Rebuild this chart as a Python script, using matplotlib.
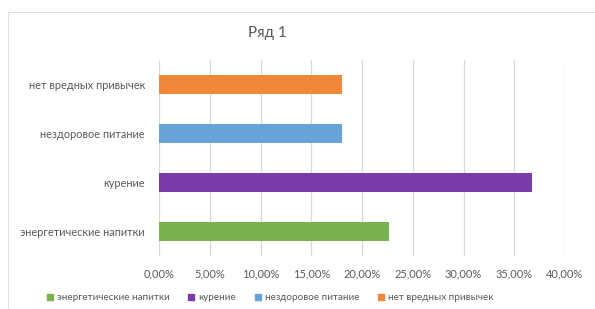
import matplotlib.pyplot as plt
from matplotlib.patches import Rectangle

# data
categories = ["энергетические напитки", "курение", "нездоровое питание", "нет вредных привычек"]
values = [22.7, 36.7, 18.0, 18.0]
colors = ["#7ab24f", "#7a3ba8", "#67a3d9", "#f0873a"]
xticks = [0, 5, 10, 15, 20, 25, 30, 35, 40]
xtick_labels = ["0,00%", "5,00%", "10,00%", "15,00%", "20,00%", "25,00%", "30,00%", "35,00%", "40,00%"]

plt.rcParams['font.family'] = ['Lato', 'DejaVu Sans']
text_color = "#595959"

fig = plt.figure(figsize=(5.95, 3.09), dpi=100)
ax = fig.add_axes([159 / 595, 1 - 256 / 309, 406 / 595, 196 / 309])

ypos = list(range(len(categories)))
ax.barh(ypos, values, height=0.39, color=colors, zorder=3)

ax.set_xlim(0, 40)
ax.set_ylim(-0.5, 3.5)
ax.set_xticks(xticks)
ax.set_xticklabels(xtick_labels)
ax.set_yticks(ypos)
ax.set_yticklabels(categories)
ax.tick_params(axis='both', length=0, labelsize=7.9, colors=text_color)
ax.tick_params(axis='y', pad=10)
ax.tick_params(axis='x', pad=9)
ax.grid(axis='x', color="#d9d9d9", linewidth=0.9, zorder=0)
for s in ax.spines.values():
    s.set_visible(False)

# title
fig.text(267 / 595, 1 - 33 / 309, "Ряд 1", ha='center', va='center', fontsize=11, color=text_color)

# chart border
fig.patches.append(Rectangle((8 / 595, -0.05), 1.2, 1 - 12 / 309 + 0.05, transform=fig.transFigure,
                             fill=False, edgecolor="#dedede", linewidth=0.8))

# legend
handles = [Rectangle((0, 0), 1, 1, color=c) for c in colors]
fig.legend(handles, categories, loc='center', bbox_to_anchor=(270 / 595, 1 - 298 / 309), ncol=4,
           frameon=False, fontsize=7.1, labelcolor=text_color, handlelength=0.6, handleheight=0.6,
           handletextpad=0.4, columnspacing=1.9)

fig.savefig("out.png", dpi=100)
